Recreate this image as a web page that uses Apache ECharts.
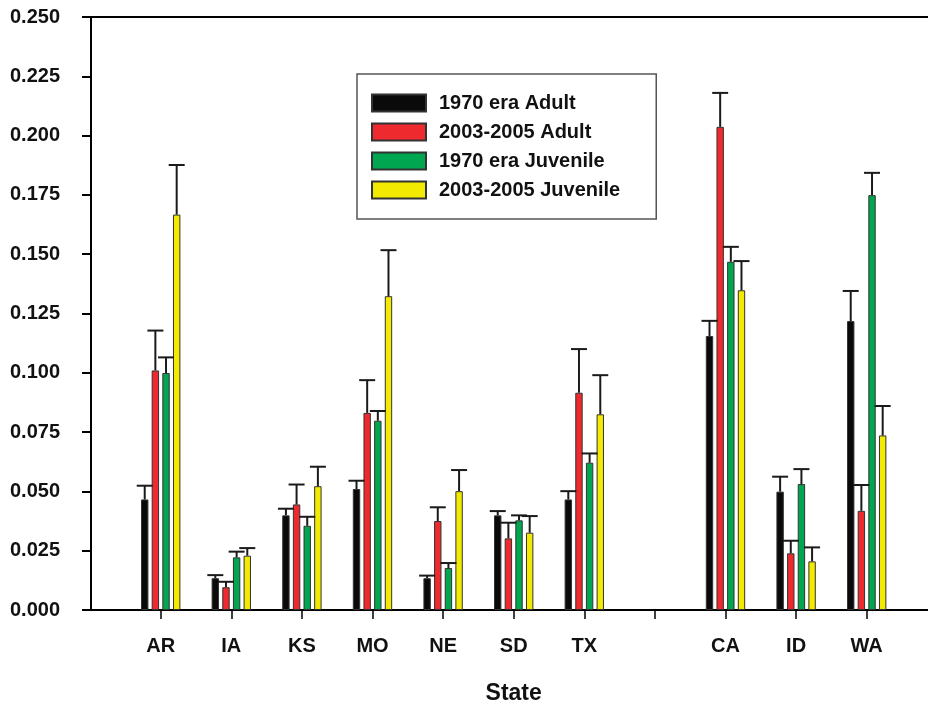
<!DOCTYPE html>
<html>
<head>
<meta charset="utf-8">
<script src="https://cdn.jsdelivr.net/npm/echarts@6/dist/echarts.min.js"></script>
<style>
  html, body { margin: 0; padding: 0; background: #fff; }
  #chart { width: 928px; height: 708px; }
</style>
</head>
<body>
<div id="chart"></div>
<script>
// states, with an empty slot between TX and CA
const states = ['AR', 'IA', 'KS', 'MO', 'NE', 'SD', 'TX', '', 'CA', 'ID', 'WA'];
const seriesNames = ['1970 era Adult', '2003-2005 Adult', '1970 era Juvenile', '2003-2005 Juvenile'];
const yTicks = [0, 0.025, 0.05, 0.075, 0.1, 0.125, 0.15, 0.175, 0.2, 0.225, 0.25];

// mean values
const adult1970 = [0.0466, 0.0134, 0.0399, 0.0510, 0.0134, 0.0399, 0.0466, null, 0.1155, 0.0499, 0.1218];
const adult2003 = [0.1010, 0.0096, 0.0445, 0.0831, 0.0375, 0.0302, 0.0916, null, 0.2037, 0.0239, 0.0418];
const juv1970 = [0.0999, 0.0222, 0.0355, 0.0798, 0.0177, 0.0378, 0.0621, null, 0.1468, 0.0531, 0.1749];
const juv2003 = [0.1667, 0.0229, 0.0522, 0.1323, 0.0501, 0.0326, 0.0825, null, 0.1348, 0.0205, 0.0736];

// upper error (+ SE)
const adult1970Err = [0.0058, 0.0013, 0.0028, 0.0035, 0.0011, 0.0018, 0.0035, null, 0.0064, 0.0063, 0.0127];
const adult2003Err = [0.0168, 0.0023, 0.0084, 0.0138, 0.0058, 0.0066, 0.0184, null, 0.0143, 0.0053, 0.0109];
const juv1970Err = [0.0066, 0.0024, 0.0038, 0.0041, 0.0021, 0.0021, 0.0039, null, 0.0063, 0.0063, 0.0094];
const juv2003Err = [0.0209, 0.0032, 0.0082, 0.0194, 0.0089, 0.0070, 0.0165, null, 0.0123, 0.0059, 0.0124];

const values = [adult1970, adult2003, juv1970, juv2003];
const errors = [adult1970Err, adult2003Err, juv1970Err, juv2003Err];
const colors = ['#0a0a0a', '#ee2a2e', '#00a650', '#f2ea00'];

const FONT = '"Liberation Sans Narrow", "Liberation Sans", Arial, sans-serif';
const BAR_W = 7.4;
const STEP = BAR_W * 1.44;

const chart = echarts.init(document.getElementById('chart'));

const barSeries = values.map((vals, i) => ({
    name: seriesNames[i],
    type: 'bar',
    xAxisIndex: 2,
    yAxisIndex: 1,
    barWidth: BAR_W,
    barGap: '44%',
    itemStyle: { color: colors[i], borderColor: '#333', borderWidth: 1 },
    data: vals.map(v => (v == null ? '-' : v)),
    z: 2
}));

const errSeries = values.map((vals, i) => ({
    name: 'err' + i,
    type: 'custom',
    xAxisIndex: 2,
    yAxisIndex: 1,
    z: 5,
    data: vals.map((v, k) => [k, v, v == null ? null : v + errors[i][k]]).filter(d => d[1] != null),
    renderItem: function (params, api) {
        const base = api.coord([api.value(0), api.value(1)]);
        const top = api.coord([api.value(0), api.value(2)]);
        const x = base[0] + (i - 1.5) * STEP;
        const style = { stroke: '#1a1a1a', lineWidth: 2 };
        return {
            type: 'group',
            children: [
                { type: 'line', shape: { x1: x, y1: base[1], x2: x, y2: top[1] }, style: style },
                { type: 'line', shape: { x1: x - 8, y1: top[1], x2: x + 8, y2: top[1] }, style: style }
            ]
        };
    }
}));

const option = {
    animation: false,
    backgroundColor: '#fff',
    grid: [
        { left: 91, right: 0, top: 17, bottom: 98, outerBoundsMode: 'none' },
        { left: 125.4, width: 776.6, top: 17, bottom: 98, outerBoundsMode: 'none' }
    ],
    legend: {
        data: seriesNames,
        orient: 'vertical',
        left: 357,
        top: 74,
        itemWidth: 54,
        itemHeight: 17,
        itemGap: 9,
        padding: [19, 36, 19, 14],
        backgroundColor: '#fff',
        borderColor: '#555',
        borderWidth: 1.5,
        icon: 'rect',
        textStyle: { fontFamily: FONT, fontWeight: 'bold', fontSize: 20, color: '#111', padding: [0, 0, 0, 8] }
    },
    xAxis: [
        {
            gridIndex: 0, type: 'value', min: 0, max: 1, position: 'bottom',
            axisLine: { show: true, lineStyle: { color: '#000', width: 2 } },
            axisTick: { show: false }, axisLabel: { show: false }, splitLine: { show: false }
        },
        {
            gridIndex: 0, type: 'value', min: 0, max: 1, position: 'top',
            axisLine: { show: true, lineStyle: { color: '#000', width: 2 } },
            axisTick: { show: false }, axisLabel: { show: false }, splitLine: { show: false }
        },
        {
            gridIndex: 1, type: 'category', data: states, position: 'bottom',
            axisLine: { show: true, lineStyle: { color: '#000', width: 2 } },
            axisTick: { show: true, alignWithLabel: true, length: 9, lineStyle: { color: '#000', width: 1.5 } },
            axisLabel: { fontFamily: FONT, fontWeight: 'bold', fontSize: 20, color: '#111', margin: 26 },
            name: 'State',
            nameLocation: 'middle',
            nameGap: 72,
            nameTextStyle: { fontFamily: FONT, fontWeight: 'bold', fontSize: 23, color: '#111' }
        }
    ],
    yAxis: [
        {
            gridIndex: 0, type: 'value', min: 0, max: 0.25, interval: 0.025,
            axisLine: { show: true, lineStyle: { color: '#000', width: 2 } },
            axisTick: { show: true, length: 9, lineStyle: { color: '#000', width: 2 } },
            axisLabel: {
                fontFamily: FONT, fontWeight: 'bold', fontSize: 20, color: '#111', margin: 31,
                formatter: v => (yTicks.some(t => Math.abs(t - v) < 1e-9) ? v.toFixed(3) : '')
            },
            splitLine: { show: false }
        },
        {
            gridIndex: 1, type: 'value', min: 0, max: 0.25, interval: 0.025, show: false
        }
    ],
    series: barSeries.concat(errSeries)
};

chart.setOption(option);
</script>
</body>
</html>
